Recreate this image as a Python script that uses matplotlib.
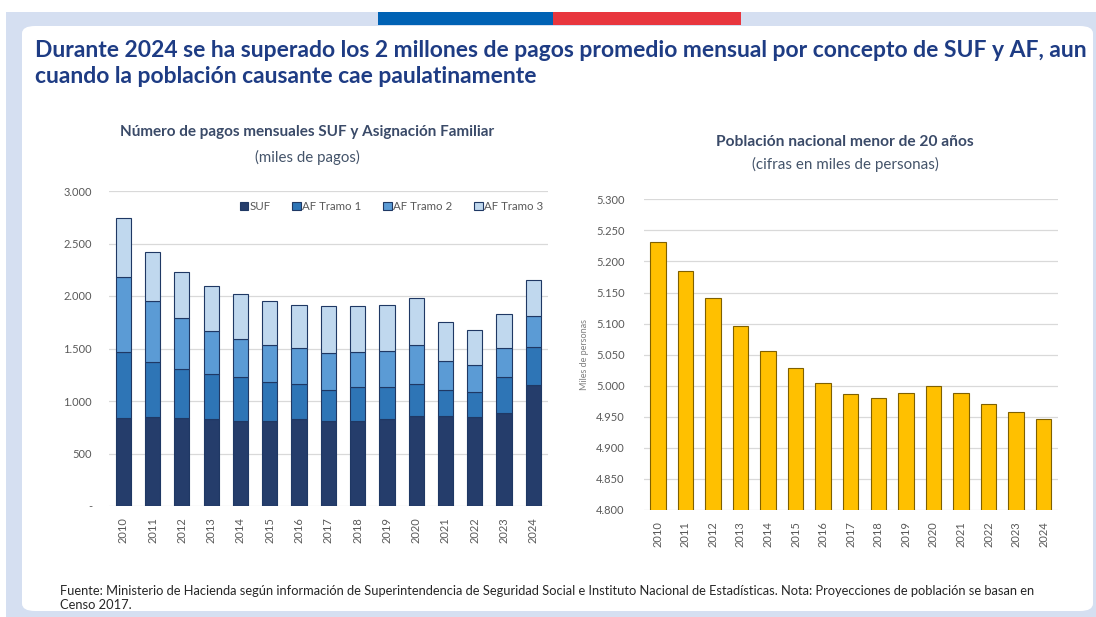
import matplotlib
matplotlib.use("Agg")
import matplotlib.pyplot as plt
from matplotlib.patches import FancyBboxPatch, Rectangle
from matplotlib.ticker import FuncFormatter, MultipleLocator

plt.rcParams['font.family'] = ['Lato', 'DejaVu Sans']

years = ['2010', '2011', '2012', '2013', '2014', '2015', '2016', '2017',
         '2018', '2019', '2020', '2021', '2022', '2023', '2024']
suf = [838, 848, 838, 826, 813, 813, 826, 813, 813, 826, 860, 860, 848, 886, 1153]
af_tramo1 = [632, 520, 464, 428, 416, 365, 336, 289, 324, 311, 302, 242, 241, 340, 365]
af_tramo2 = [711, 581, 486, 416, 365, 356, 346, 355, 330, 343, 372, 276, 254, 282, 295]
af_tramo3 = [559, 474, 444, 422, 422, 419, 407, 445, 435, 435, 444, 371, 330, 318, 343]
poblacion = [5231, 5184, 5141, 5096, 5056, 5029, 5005, 4986, 4981, 4988, 4999, 4988, 4971, 4958, 4947]

series_names = ['SUF', 'AF Tramo 1', 'AF Tramo 2', 'AF Tramo 3']
series_colors = ['#253d6b', '#2e75b6', '#5b9bd5', '#c0d8ee']

W, H = 1096, 617
fig = plt.figure(figsize=(W / 100, H / 100), dpi=100)
fig.patch.set_facecolor('white')

# background frame
fig.patches.append(Rectangle((6 / W, 0), 1 - 6 / W, 1 - 12 / H, transform=fig.transFigure,
                             facecolor='#d5dff1', edgecolor='none', zorder=-3))
fig.patches.append(FancyBboxPatch((22 / W, 6 / H), (1093 - 22) / W, (591 - 6) / H,
                                  boxstyle='round,pad=0,rounding_size=0.012',
                                  transform=fig.transFigure, facecolor='white',
                                  edgecolor='none', zorder=-2))
fig.patches.append(Rectangle((378 / W, 1 - 25 / H), (553 - 378) / W, 13 / H, transform=fig.transFigure,
                             facecolor='#0062b4', edgecolor='none', zorder=-1))
fig.patches.append(Rectangle((553 / W, 1 - 25 / H), (741 - 553) / W, 13 / H, transform=fig.transFigure,
                             facecolor='#e8363e', edgecolor='none', zorder=-1))

fig.text(35 / W, 1 - 63.5 / H,
         'Durante 2024 se ha superado los 2 millones de pagos promedio mensual por concepto de SUF y AF, aun\ncuando la población causante cae paulatinamente',
         fontsize=16.5, fontweight='bold', color='#1e3c84', va='center', ha='left',
         linespacing=1.25, zorder=5)

fmt = FuncFormatter(lambda v, p: '-' if v == 0 else f'{v:,.0f}'.replace(',', '.'))
gray = '#595959'

# Left chart
ax1 = fig.add_axes([108.6 / W, 1 - 506 / H, (548 - 108.6) / W, 315 / H])
ax1.set_zorder(3)
ax1.patch.set_visible(False)
x = list(range(len(years)))
bottom = [0] * len(years)
for vals, name, col in zip([suf, af_tramo1, af_tramo2, af_tramo3], series_names, series_colors):
    ax1.bar(x, vals, bottom=bottom, width=0.52, color=col, edgecolor='#1f3864',
            linewidth=0.8, label=name, zorder=3)
    bottom = [b + v for b, v in zip(bottom, vals)]
ax1.set_ylim(0, 3000)
ax1.set_xlim(-0.5, len(years) - 0.5)
ax1.yaxis.set_major_locator(MultipleLocator(500))
ax1.yaxis.set_major_formatter(fmt)
ax1.set_xticks(x)
ax1.set_xticklabels(years, rotation=90)
ax1.grid(axis='y', color='#d9d9d9', linewidth=0.9, zorder=0)
ax1.set_axisbelow(True)
ax1.tick_params(length=0, labelsize=8, colors=gray, pad=8)
ax1.tick_params(axis='y', pad=12)
for s in ax1.spines.values():
    s.set_visible(False)
leg = ax1.legend(loc='upper right', ncol=4, frameon=False, fontsize=8.3, handlelength=0.75,
                 handleheight=0.75, handletextpad=0.1, columnspacing=1.9,
                 bbox_to_anchor=(1.0, 0.982), borderaxespad=0)
for t in leg.get_texts():
    t.set_color(gray)

fig.text(307 / W, 1 - 132 / H, 'Número de pagos mensuales SUF y Asignación Familiar',
         fontsize=11, fontweight='bold', color='#3a4a68', ha='center', va='center')
fig.text(307 / W, 1 - 157 / H, '(miles de pagos)', fontsize=10.8, color='#44546a',
         ha='center', va='center')

# Right chart
ax2 = fig.add_axes([644 / W, 1 - 510 / H, (1057.5 - 644) / W, 310.7 / H])
ax2.set_zorder(3)
ax2.patch.set_visible(False)
ax2.bar(x, poblacion, width=0.56, color='#ffc000', edgecolor='#7f6000', linewidth=0.8, zorder=3)
ax2.set_ylim(4800, 5300)
ax2.set_xlim(-0.5, len(years) - 0.5)
ax2.yaxis.set_major_locator(MultipleLocator(50))
ax2.yaxis.set_major_formatter(fmt)
ax2.set_xticks(x)
ax2.set_xticklabels(years, rotation=90)
ax2.grid(axis='y', color='#d9d9d9', linewidth=0.9, zorder=0)
ax2.set_axisbelow(True)
ax2.tick_params(length=0, labelsize=8, colors=gray, pad=8)
ax2.tick_params(axis='y', pad=14)
for s in ax2.spines.values():
    s.set_visible(False)
fig.text(585 / W, 1 - 355 / H, 'Miles de personas', rotation=90, fontsize=6.5,
         color='#7f7f7f', ha='center', va='center')

fig.text(845 / W, 1 - 142 / H, 'Población nacional menor de 20 años',
         fontsize=11.2, fontweight='bold', color='#3a4a68', ha='center', va='center')
fig.text(845 / W, 1 - 164 / H, '(cifras en miles de personas)', fontsize=10.9, color='#44546a',
         ha='center', va='center')

fig.text(60 / W, 1 - 598 / H,
         'Fuente: Ministerio de Hacienda según información de Superintendencia de Seguridad Social e Instituto Nacional de Estadísticas. Nota: Proyecciones de población se basan en\nCenso 2017.',
         fontsize=9.3, color='#262626', ha='left', va='center', linespacing=1.15)

fig.savefig('out.png', dpi=100, facecolor='white')
